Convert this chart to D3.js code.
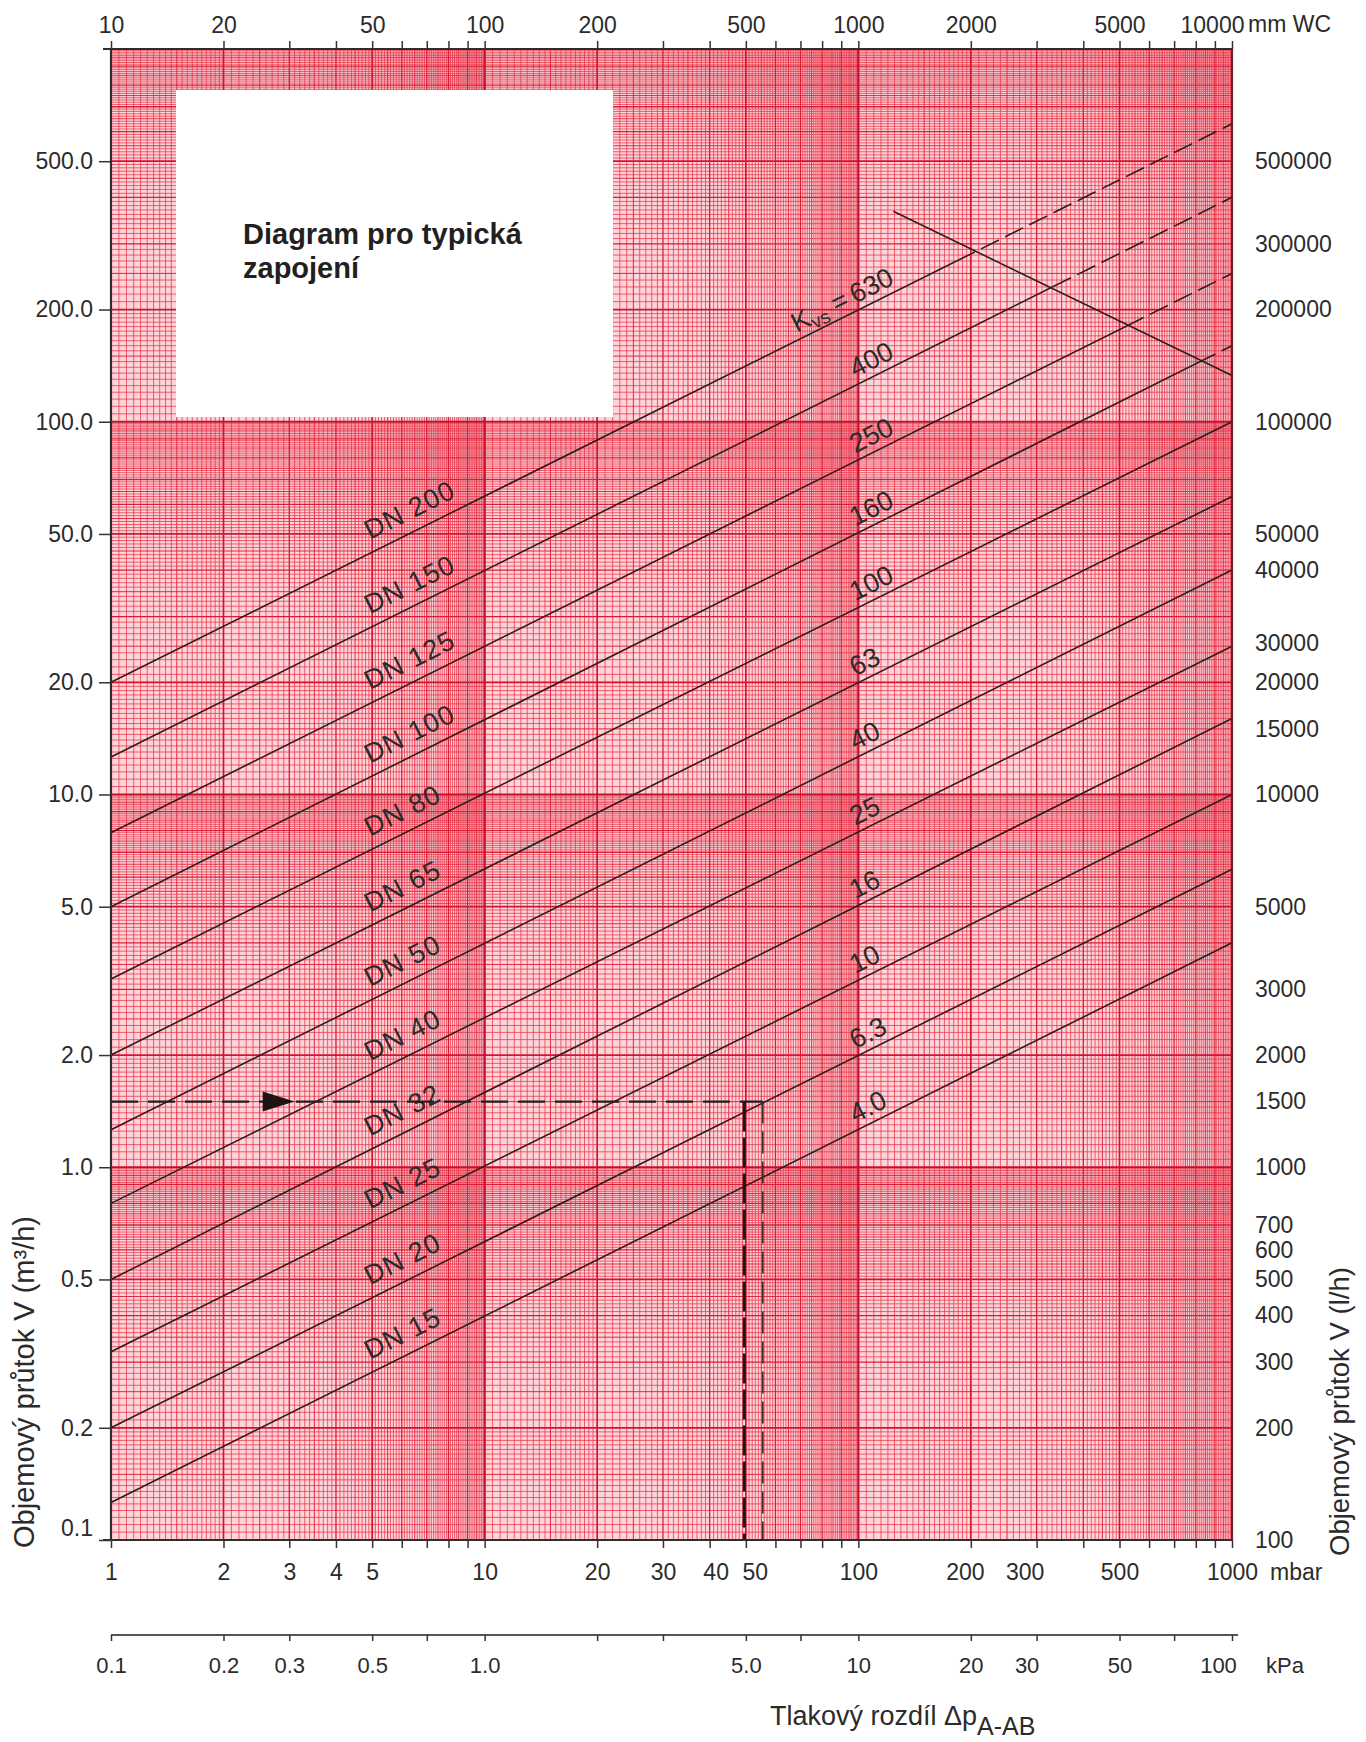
<!DOCTYPE html>
<html>
<head>
<meta charset="utf-8">
<script src="https://cdn.jsdelivr.net/npm/d3@7"></script>
<style>
body { margin: 0; background: #fff; }
svg text { font-family: "Liberation Sans", Arial, Helvetica, sans-serif; fill: #2b2b2b; }
</style>
</head>
<body>
<div id="chart"></div>
<script>
// Kvs lines, flow read at 1 mbar and at 1000 mbar (m3/h)
let kvsLabels   = ['630', '400', '250', '160', '100', '63', '40', '25', '16', '10', '6.3', '4.0'];
let dnLabels    = ['DN 200', 'DN 150', 'DN 125', 'DN 100', 'DN 80', 'DN 65', 'DN 50', 'DN 40', 'DN 32', 'DN 25', 'DN 20', 'DN 15'];
let flowAt1     = [20, 12.6, 7.9, 5.0, 3.2, 2.0, 1.26, 0.8, 0.5, 0.32, 0.2, 0.126];
let flowAt1000  = [630, 400, 250, 160, 100, 63, 40, 25, 16, 10, 6.3, 4.0];
// pressure (mbar) where the line turns dashed (beyond the limit line)
let dashFrom    = [200, 340, 520, 820, null, null, null, null, null, null, null, null];

// limit line [mbar, m3/h]
let limitLine   = [[124, 367], [1000, 133]];

// reading example
let readFlow     = 1.5;
let readPressure = [49.5, 55.5];
let arrowAt      = 3.1;

// axis ticks
let mbarLabels  = [1, 2, 3, 4, 5, 10, 20, 30, 40, 50, 100, 200, 300, 500, 1000];
let mmwcLabels  = [10, 20, 50, 100, 200, 500, 1000, 2000, 5000, 10000];
let kpaTicks    = [0.1, 0.2, 0.3, 0.5, 0.7, 1, 2, 3, 5, 7, 10, 20, 30, 50, 70, 100];
let kpaLabels   = [0.1, 0.2, 0.3, 0.5, 1, 5, 10, 20, 30, 50, 100];
let leftTicks   = [500, 200, 100, 50, 20, 10, 5, 2, 1, 0.5, 0.2, 0.1];
let rightTicks  = [500000, 300000, 200000, 100000, 50000, 40000, 25500, 20000, 15000, 10000,
                   5000, 3000, 2000, 1500, 1000, 700, 600, 500, 400, 300, 200, 100];
let rightLabels = ['500000', '300000', '200000', '100000', '50000', '40000', '30000', '20000', '15000', '10000',
                   '5000', '3000', '2000', '1500', '1000', '700', '600', '500', '400', '300', '200', '100'];

let chart_width  = 1366;
let chart_height = 1742;
let pl = 111, pr = 1232, pt = 49, pb = 1540;

let svg = d3.select('#chart')
    .append('svg')
    .attr('width', chart_width)
    .attr('height', chart_height);

svg.append('rect')
    .attr('width', chart_width)
    .attr('height', chart_height)
    .attr('fill', '#fff');

// scales
let x = d3.scaleLog().domain([1, 1000]).range([pl, pr]);
let xTop = d3.scaleLog().domain([10, 10000]).range([pl, pr]);
let xKpa = d3.scaleLog().domain([0.1, 100]).range([pl, pr]);
let y = d3.scaleLog().domain([0.1, 1000]).range([pb, pt]);
let yRight = d3.scaleLog().domain([100, 1000000]).range([pb, pt]);

// log paper grid
let subSteps = [[1, 2, 0.05], [2, 5, 0.1], [5, 10, 0.1]];
function gridValues(lo, hi) {
    let out = [];
    for (let e = lo; e < hi; e++) {
        subSteps.forEach(function (s) {
            let n = Math.round((s[1] - s[0]) / s[2]);
            for (let i = 0; i < n; i++) {
                let m = +(s[0] + i * s[2]).toFixed(2);
                out.push({ v: m * Math.pow(10, e), m: m });
            }
        });
    }
    out.push({ v: Math.pow(10, hi), m: 1 });
    return out;
}
function weight(m) {
    if (m === 1) return 4;
    if (m === 2 || m === 5) return 3;
    if (Number.isInteger(m)) return 2;
    if (Number.isInteger(m * 2)) return 1;
    return 0;
}
let gridStyle = [
    { w: 0.8, c: '#e93448', o: 0.95 },
    { w: 1.0, c: '#e22a40', o: 1 },
    { w: 1.3, c: '#d91d36', o: 1 },
    { w: 1.7, c: '#d0152f', o: 1 },
    { w: 2.2, c: '#c4102a', o: 1 }
];

let grid = svg.append('g').attr('class', 'grid');
grid.append('rect')
    .attr('x', pl).attr('y', pt)
    .attr('width', pr - pl).attr('height', pb - pt)
    .attr('fill', '#fcd4da');

let vLines = gridValues(0, 3).map(function (d) { return { v: d.v, k: weight(d.m), dir: 'v' }; });
let hLines = gridValues(-1, 3).map(function (d) { return { v: d.v, k: weight(d.m), dir: 'h' }; });
let allLines = vLines.concat(hLines).sort(function (a, b) { return a.k - b.k; });

grid.selectAll('line')
    .data(allLines)
    .enter()
    .append('line')
    .attr('x1', d => d.dir === 'v' ? x(d.v) : pl)
    .attr('x2', d => d.dir === 'v' ? x(d.v) : pr)
    .attr('y1', d => d.dir === 'h' ? y(d.v) : pt)
    .attr('y2', d => d.dir === 'h' ? y(d.v) : pb)
    .attr('stroke', d => gridStyle[d.k].c)
    .attr('stroke-width', d => gridStyle[d.k].w)
    .attr('stroke-opacity', d => gridStyle[d.k].o);

// text box
svg.append('rect')
    .attr('x', 176).attr('y', 90)
    .attr('width', 437).attr('height', 327)
    .attr('fill', '#fff');
let note = svg.append('text')
    .attr('x', 243).attr('y', 244)
    .attr('font-size', 29)
    .attr('font-weight', 'bold')
    .style('fill', '#231f20');
note.append('tspan').text('Diagram pro typická');
note.append('tspan').attr('x', 243).attr('dy', 34).text('zapojení');

// Kvs lines
let lineGen = d3.line()
    .x(d => x(d[0]))
    .y(d => y(d[1]));

let kvsData = flowAt1.map(function (q, i) {
    return { i: i, pts: [[1, q], [1000, flowAt1000[i]]], dash: dashFrom[i] };
});

let defs = svg.append('defs');
kvsData.forEach(function (d) {
    if (d.dash === null) return;
    defs.append('clipPath').attr('id', 'solid' + d.i)
        .append('rect')
        .attr('x', pl - 2).attr('y', 0)
        .attr('width', x(d.dash) - pl + 2).attr('height', chart_height);
    defs.append('clipPath').attr('id', 'dash' + d.i)
        .append('rect')
        .attr('x', x(d.dash)).attr('y', 0)
        .attr('width', pr - x(d.dash) + 2).attr('height', chart_height);
});

let lines = svg.append('g').attr('class', 'kvs');
kvsData.forEach(function (d) {
    let solid = lines.append('path')
        .attr('d', lineGen(d.pts))
        .attr('fill', 'none')
        .attr('stroke', '#2e1c1c')
        .attr('stroke-width', 1.6);
    if (d.dash !== null) {
        solid.attr('clip-path', 'url(#solid' + d.i + ')');
        lines.append('path')
            .attr('d', lineGen(d.pts))
            .attr('fill', 'none')
            .attr('stroke', '#2e1c1c')
            .attr('stroke-width', 1.6)
            .attr('stroke-dasharray', '20,7')
            .attr('clip-path', 'url(#dash' + d.i + ')');
    }
});

// limit line
svg.append('path')
    .attr('d', lineGen(limitLine))
    .attr('fill', 'none')
    .attr('stroke', '#2e1c1c')
    .attr('stroke-width', 1.6);

// labels along lines
function onLine(d, dp) {
    let x1 = x(d.pts[0][0]), y1 = y(d.pts[0][1]);
    let x2 = x(d.pts[1][0]), y2 = y(d.pts[1][1]);
    let px = x(dp);
    let t = (px - x1) / (x2 - x1);
    return { x: px, y: y1 + t * (y2 - y1), a: Math.atan2(y2 - y1, x2 - x1) * 180 / Math.PI };
}

svg.append('g')
    .selectAll('text')
    .data(kvsData)
    .enter()
    .append('text')
    .attr('transform', function (d) {
        let p = onLine(d, 5.1);
        return 'translate(' + p.x + ',' + p.y + ') rotate(' + p.a + ')';
    })
    .attr('y', -12)
    .attr('font-size', 27)
    .attr('letter-spacing', 1)
    .text(d => dnLabels[d.i]);

svg.append('g')
    .selectAll('text')
    .data(kvsData)
    .enter()
    .append('text')
    .attr('transform', function (d) {
        let p = onLine(d, 100);
        return 'translate(' + p.x + ',' + p.y + ') rotate(' + p.a + ')';
    })
    .attr('y', -7)
    .attr('font-size', 27)
    .text(d => kvsLabels[d.i]);

// "Kvs =" prefix on the first line
let p0 = onLine(kvsData[0], 100);
let kvsText = svg.append('text')
    .attr('transform', 'translate(' + p0.x + ',' + p0.y + ') rotate(' + p0.a + ')')
    .attr('x', -5)
    .attr('y', -7)
    .attr('font-size', 27)
    .attr('text-anchor', 'end');
kvsText.append('tspan').text('K');
kvsText.append('tspan').attr('font-size', 19).attr('dy', 5).text('vs');
kvsText.append('tspan').attr('dy', -5).text(' =');

// reading example
svg.append('path')
    .attr('d', lineGen([[1, readFlow], [readPressure[1], readFlow]]))
    .attr('fill', 'none')
    .attr('stroke', '#2a1a1a')
    .attr('stroke-width', 2.2)
    .attr('stroke-dasharray', '27,10');
svg.append('path')
    .attr('d', lineGen([[readPressure[0], readFlow], [readPressure[0], 0.1]]))
    .attr('fill', 'none')
    .attr('stroke', '#1e1414')
    .attr('stroke-width', 3)
    .attr('stroke-dasharray', '30,6');
svg.append('path')
    .attr('d', lineGen([[readPressure[1], readFlow], [readPressure[1], 0.1]]))
    .attr('fill', 'none')
    .attr('stroke', '#3a2a2a')
    .attr('stroke-width', 1.6)
    .attr('stroke-dasharray', '22,8');
let ax = x(arrowAt), ay = y(readFlow);
svg.append('path')
    .attr('d', 'M' + ax + ',' + ay + 'L' + (ax - 32) + ',' + (ay - 10) + 'L' + (ax - 32) + ',' + (ay + 10) + 'Z')
    .attr('fill', '#1e1414');

// frame
svg.append('g')
    .selectAll('line')
    .data([
        [pl - 8, pt, pr, pt, '#2e2e2e', 2],
        [pl - 8, pb, pr, pb, '#2e2e2e', 2],
        [pl, pt, pl, pb, '#2e2e2e', 2],
        [pr, pt, pr, pb, '#4a2a2a', 1.5]
    ])
    .enter()
    .append('line')
    .attr('x1', d => d[0]).attr('y1', d => d[1])
    .attr('x2', d => d[2]).attr('y2', d => d[3])
    .attr('stroke', d => d[4])
    .attr('stroke-width', d => d[5]);

// axes
function multiples(lo, hi) {
    let out = [];
    for (let e = lo; e < hi; e++) {
        for (let m = 1; m < 10; m++) out.push(m * Math.pow(10, e));
    }
    out.push(Math.pow(10, hi));
    return out;
}
function styleAxis(g, size) {
    g.attr('font-size', size);
    g.select('.domain').remove();
    g.selectAll('.tick line').attr('stroke', '#333').attr('stroke-width', 1.5);
}
// small label nudges as printed on the original
function nudge(sel, shifts) {
    sel.selectAll('.tick text')
        .filter(d => shifts[d] !== undefined)
        .attr('dx', d => shifts[d]);
}

let topAxis = d3.axisTop(xTop)
    .tickValues(multiples(1, 4))
    .tickFormat(d => mmwcLabels.indexOf(d) >= 0 ? String(d) : '')
    .tickSize(8)
    .tickPadding(8)
    .tickSizeOuter(0);
svg.append('g')
    .attr('transform', 'translate(0,' + pt + ')')
    .call(topAxis)
    .call(g => styleAxis(g, 23))
    .call(g => nudge(g, { 10000: -20 }));

let bottomAxis = d3.axisBottom(x)
    .tickValues(multiples(0, 3))
    .tickFormat(d => mbarLabels.indexOf(d) >= 0 ? String(d) : '')
    .tickSize(8)
    .tickPadding(16)
    .tickSizeOuter(0);
svg.append('g')
    .attr('transform', 'translate(0,' + pb + ')')
    .call(bottomAxis)
    .call(g => styleAxis(g, 23))
    .call(g => nudge(g, { 40: 6, 50: 9, 200: -6, 300: -12 }));

let kpaY = 1635;
svg.append('line')
    .attr('x1', pl).attr('x2', pr + 6)
    .attr('y1', kpaY).attr('y2', kpaY)
    .attr('stroke', '#555').attr('stroke-width', 2);
let kpaAxis = d3.axisBottom(xKpa)
    .tickValues(kpaTicks)
    .tickFormat(d => kpaLabels.indexOf(d) < 0 ? '' : (d < 10 ? d.toFixed(1) : String(d)))
    .tickSize(6)
    .tickPadding(16)
    .tickSizeOuter(0);
svg.append('g')
    .attr('transform', 'translate(0,' + kpaY + ')')
    .call(kpaAxis)
    .call(g => styleAxis(g, 22))
    .call(g => nudge(g, { 30: -10, 100: -14 }));

let leftAxis = d3.axisLeft(y)
    .tickValues(leftTicks)
    .tickFormat(d => d.toFixed(1))
    .tickSize(12)
    .tickPadding(6)
    .tickSizeOuter(0);
svg.append('g')
    .attr('transform', 'translate(' + pl + ',0)')
    .call(leftAxis)
    .call(g => styleAxis(g, 23))
    .selectAll('.tick text')
    .filter(d => d === 0.1)
    .attr('y', -12);

let rightAxis = d3.axisRight(yRight)
    .tickValues(rightTicks)
    .tickFormat((d, i) => rightLabels[i])
    .tickSize(0)
    .tickPadding(23)
    .tickSizeOuter(0);
svg.append('g')
    .attr('transform', 'translate(' + pr + ',0)')
    .call(rightAxis)
    .call(g => styleAxis(g, 23));

// unit labels
svg.append('text').attr('x', 1248).attr('y', 32).attr('font-size', 23).text('mm WC');
svg.append('text').attr('x', 1270).attr('y', 1580).attr('font-size', 23).text('mbar');
svg.append('text').attr('x', 1266).attr('y', 1673).attr('font-size', 22).text('kPa');

// titles
let xTitle = svg.append('text')
    .attr('x', 770).attr('y', 1725)
    .attr('font-size', 27);
xTitle.append('tspan').text('Tlakový rozdíl Δp');
xTitle.append('tspan').attr('dy', 10).attr('font-size', 25).text('A-AB');

svg.append('text')
    .attr('transform', 'translate(34,1548) rotate(-90)')
    .attr('font-size', 29)
    .text('Objemový průtok V (m³/h)');

svg.append('text')
    .attr('transform', 'translate(1349,1556) rotate(-90)')
    .attr('font-size', 27.5)
    .text('Objemový průtok V (l/h)');
</script>
</body>
</html>
